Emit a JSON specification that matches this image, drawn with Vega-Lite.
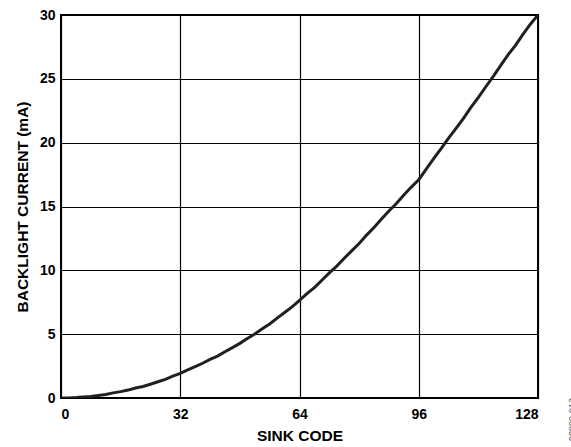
{
  "$schema": "https://vega.github.io/schema/vega-lite/v6.json",
  "width": 477,
  "height": 383,
  "autosize": {"type": "none"},
  "padding": {"left": 61, "top": 15, "right": 33, "bottom": 49},
  "background": "white",
  "title": {
    "text": "08080-013",
    "orient": "right",
    "anchor": "end",
    "frame": "group",
    "angle": -90,
    "align": "right",
    "baseline": "middle",
    "fontSize": 9,
    "font": "Liberation Sans",
    "fontWeight": "normal",
    "color": "#555555",
    "offset": 25
  },
  "config": {
    "view": {"stroke": "black", "strokeWidth": 2},
    "axis": {
      "labelFont": "Liberation Sans",
      "labelFontWeight": "bold",
      "labelFontSize": 14,
      "labelColor": "black",
      "titleFont": "Liberation Sans",
      "titleFontWeight": "bold",
      "titleFontSize": 15.5,
      "titleColor": "black",
      "ticks": false,
      "domain": false,
      "grid": true,
      "gridColor": "black",
      "gridWidth": 1.2,
      "gridOpacity": 1
    }
  },
  "data": {
    "values": [
      {"code": 0, "current": 0},
      {"code": 2, "current": 0.0},
      {"code": 4, "current": 0.03},
      {"code": 6, "current": 0.08},
      {"code": 8, "current": 0.12},
      {"code": 10, "current": 0.2},
      {"code": 12, "current": 0.28},
      {"code": 14, "current": 0.4},
      {"code": 16, "current": 0.5},
      {"code": 18, "current": 0.62},
      {"code": 20, "current": 0.78},
      {"code": 22, "current": 0.9},
      {"code": 24, "current": 1.08},
      {"code": 26, "current": 1.27},
      {"code": 28, "current": 1.46},
      {"code": 30, "current": 1.72},
      {"code": 32, "current": 1.93},
      {"code": 34, "current": 2.2},
      {"code": 36, "current": 2.45},
      {"code": 38, "current": 2.72},
      {"code": 40, "current": 3.02},
      {"code": 42, "current": 3.28},
      {"code": 44, "current": 3.62},
      {"code": 46, "current": 3.95},
      {"code": 48, "current": 4.28},
      {"code": 50, "current": 4.66},
      {"code": 52, "current": 5.02},
      {"code": 54, "current": 5.42},
      {"code": 56, "current": 5.8},
      {"code": 58, "current": 6.26},
      {"code": 60, "current": 6.7},
      {"code": 62, "current": 7.14},
      {"code": 64, "current": 7.65},
      {"code": 66, "current": 8.17},
      {"code": 68, "current": 8.65},
      {"code": 70, "current": 9.22},
      {"code": 72, "current": 9.8},
      {"code": 74, "current": 10.33},
      {"code": 76, "current": 10.95},
      {"code": 78, "current": 11.52},
      {"code": 80, "current": 12.1},
      {"code": 82, "current": 12.76},
      {"code": 84, "current": 13.35},
      {"code": 86, "current": 14.02},
      {"code": 88, "current": 14.65},
      {"code": 90, "current": 15.24},
      {"code": 92, "current": 15.9},
      {"code": 94, "current": 16.52},
      {"code": 96, "current": 17.1},
      {"code": 98, "current": 17.92},
      {"code": 100, "current": 18.75},
      {"code": 102, "current": 19.53},
      {"code": 104, "current": 20.35},
      {"code": 106, "current": 21.12},
      {"code": 108, "current": 21.9},
      {"code": 110, "current": 22.76},
      {"code": 112, "current": 23.55},
      {"code": 114, "current": 24.38},
      {"code": 116, "current": 25.2},
      {"code": 118, "current": 26.06},
      {"code": 120, "current": 26.9},
      {"code": 122, "current": 27.64},
      {"code": 124, "current": 28.5},
      {"code": 126, "current": 29.3},
      {"code": 128, "current": 30.0}
    ]
  },
  "mark": {"type": "line", "color": "#231f20", "strokeWidth": 3, "clip": true},
  "encoding": {
    "x": {
      "field": "code",
      "type": "quantitative",
      "scale": {"domain": [0, 128], "nice": false},
      "axis": {"values": [0, 32, 64, 96, 128], "title": "SINK CODE", "labelPadding": 9, "titlePadding": 7}
    },
    "y": {
      "field": "current",
      "type": "quantitative",
      "scale": {"domain": [0, 30], "nice": false},
      "axis": {"values": [0, 5, 10, 15, 20, 25, 30], "title": "BACKLIGHT CURRENT (mA)", "labelPadding": 6, "titlePadding": 9}
    }
  }
}
